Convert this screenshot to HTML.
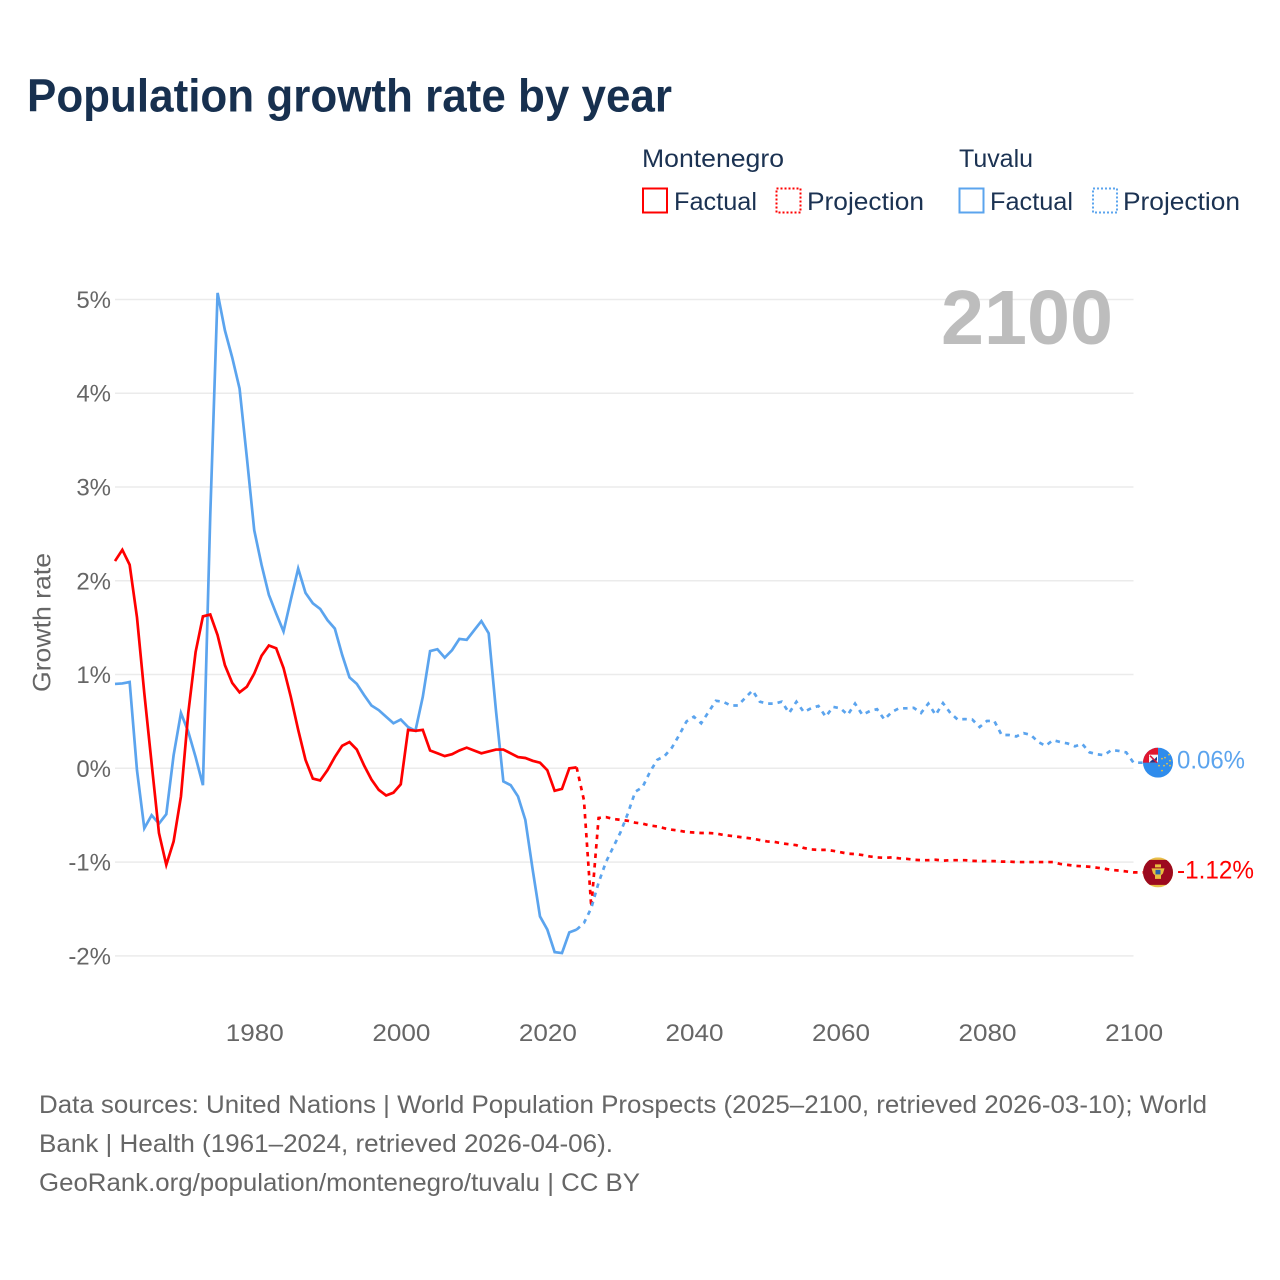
<!DOCTYPE html>
<html lang="en">
<head>
<meta charset="utf-8">
<title>Population growth rate by year</title>
<style>
html,body{margin:0;padding:0;background:#fff;width:1280px;height:1280px;overflow:hidden}
svg{display:block}
text{font-family:"Liberation Sans",sans-serif}
</style>
</head>
<body>
<svg id="chart" width="1280" height="1280" viewBox="0 0 1280 1280" xmlns="http://www.w3.org/2000/svg">
<defs>
<clipPath id="clip-tuvalu"><circle cx="0" cy="0" r="15"/></clipPath>
<clipPath id="clip-montenegro"><circle cx="0" cy="0" r="15"/></clipPath>
</defs>
<rect x="0" y="0" width="1280" height="1280" fill="#fff"/>
<text x="27" y="111.500" font-size="46" font-weight="700" fill="#17304f" textLength="645" lengthAdjust="spacingAndGlyphs">Population growth rate by year</text>

<g font-size="25" fill="#1b3252">
<text x="642" y="167" textLength="142" lengthAdjust="spacingAndGlyphs">Montenegro</text>
<text x="959" y="167" textLength="74" lengthAdjust="spacingAndGlyphs">Tuvalu</text>
<rect x="643" y="188.500" width="24" height="24" fill="none" stroke="#ff0000" stroke-width="2"/>
<text x="674" y="210" textLength="83" lengthAdjust="spacingAndGlyphs">Factual</text>
<rect x="776.500" y="188.500" width="24" height="24" fill="none" stroke="#ff0000" stroke-width="2" stroke-dasharray="2 2"/>
<text x="807" y="210" textLength="117" lengthAdjust="spacingAndGlyphs">Projection</text>
<rect x="959.500" y="188.500" width="24" height="24" fill="none" stroke="#5ba4ee" stroke-width="2"/>
<text x="990" y="210" textLength="83" lengthAdjust="spacingAndGlyphs">Factual</text>
<rect x="1093" y="188.500" width="24" height="24" fill="none" stroke="#5ba4ee" stroke-width="2" stroke-dasharray="2 2"/>
<text x="1123" y="210" textLength="117" lengthAdjust="spacingAndGlyphs">Projection</text>
</g>

<g id="grid"></g>
<g id="y-ticks"></g>
<g id="x-ticks"></g>
<text transform="translate(50.500,622.500) rotate(-90)" text-anchor="middle" font-size="25" fill="#666" textLength="139" lengthAdjust="spacingAndGlyphs">Growth rate</text>
<text x="1113" y="344" text-anchor="end" font-size="77" font-weight="700" fill="#bdbdbd" textLength="172" lengthAdjust="spacingAndGlyphs">2100</text>
<g id="series"></g>

<g id="flag-tuvalu">
<g clip-path="url(#clip-tuvalu)">
<rect x="-15" y="-15" width="30" height="30" fill="#2f8cec"/>
<rect x="-15" y="-15" width="15" height="15" fill="#e0162f"/>
<rect x="-9" y="-8" width="9" height="8" fill="#f6f6f6"/>
<path d="M-9 0 L-4.500 -4 L0 0 Z" fill="#1f3a8a"/>
<path d="M-1 -6 L-1 -2 L-5 -2 Z" fill="#1f3a8a"/>
<path d="M-8 -7 L-1 0" stroke="#d9143a" stroke-width="1.500"/>
<g fill="#e6c24a">
<circle cx="4" cy="-4" r="0.900"/><circle cx="7" cy="-5" r="0.900"/><circle cx="11" cy="-8" r="0.900"/><circle cx="12" cy="-2" r="0.900"/><circle cx="9" cy="1" r="0.900"/><circle cx="6" cy="3" r="0.900"/><circle cx="4" cy="8" r="0.900"/><circle cx="1" cy="3" r="0.900"/><circle cx="12" cy="3" r="0.900"/>
</g>
</g>
</g>

<g id="flag-montenegro">
<g clip-path="url(#clip-montenegro)">
<rect x="-15" y="-15" width="30" height="30" fill="#e8c048"/>
<rect x="-15" y="-12.500" width="30" height="25" fill="#9c0a1f"/>
<path d="M-3 -8 L3 -8 L3 -5 L-3 -5 Z" fill="#e8bf3f"/>
<path d="M-6.500 -4 L6.500 -4 L5 1 L3 3 L3 6.500 L-3 6.500 L-3 3 L-5 1 Z" fill="#e8bf3f"/>
<rect x="-2.500" y="-2.500" width="5" height="4.500" fill="#2b63a8"/>
</g>
</g>

<text id="label-tuvalu" x="1177" font-size="25" fill="#5ba4ee" textLength="68" lengthAdjust="spacingAndGlyphs"></text>
<text id="label-montenegro" x="1177" font-size="25" fill="#ff0000" textLength="77" lengthAdjust="spacingAndGlyphs"></text>

<g font-size="25" fill="#666">
<text x="39" y="1113" textLength="1168" lengthAdjust="spacingAndGlyphs">Data sources: United Nations | World Population Prospects (2025–2100, retrieved 2026-03-10); World</text>
<text x="39" y="1152" textLength="574" lengthAdjust="spacingAndGlyphs">Bank | Health (1961–2024, retrieved 2026-04-06).</text>
<text x="39" y="1191" textLength="601" lengthAdjust="spacingAndGlyphs">GeoRank.org/population/montenegro/tuvalu | CC BY</text>
</g>

<script>
const yTickValues = [5, 4, 3, 2, 1, 0, -1, -2];
const yTickLabels = ["5%", "4%", "3%", "2%", "1%", "0%", "-1%", "-2%"];
const xTickYears = [1980, 2000, 2020, 2040, 2060, 2080, 2100];
const factualStartYear = 1961;
const projectionStartYear = 2024;
const montenegroFactual = [2.21,2.33,2.17,1.61,0.80,0.05,-0.69,-1.03,-0.78,-0.30,0.59,1.24,1.62,1.64,1.42,1.10,0.91,0.81,0.87,1.01,1.20,1.31,1.28,1.07,0.76,0.41,0.09,-0.11,-0.13,-0.02,0.12,0.24,0.28,0.20,0.03,-0.12,-0.23,-0.29,-0.26,-0.17,0.41,0.40,0.41,0.19,0.16,0.13,0.15,0.19,0.22,0.19,0.16,0.18,0.20,0.20,0.16,0.12,0.11,0.08,0.06,-0.02,-0.24,-0.22,0.00,0.01];
const tuvaluFactual = [0.90,0.905,0.92,-0.02,-0.64,-0.50,-0.59,-0.49,0.14,0.59,0.39,0.12,-0.18,2.70,5.07,4.67,4.38,4.05,3.31,2.54,2.17,1.85,1.65,1.46,1.80,2.13,1.87,1.76,1.70,1.58,1.49,1.21,0.97,0.90,0.78,0.67,0.62,0.55,0.48,0.52,0.44,0.40,0.76,1.25,1.27,1.18,1.26,1.38,1.37,1.47,1.57,1.44,0.61,-0.14,-0.18,-0.30,-0.55,-1.08,-1.58,-1.72,-1.96,-1.97,-1.75,-1.72];
const montenegroProjection = [0.01,-0.34,-1.48,-0.53,-0.52,-0.54,-0.55,-0.56,-0.58,-0.59,-0.61,-0.62,-0.64,-0.655,-0.665,-0.68,-0.685,-0.69,-0.69,-0.695,-0.71,-0.72,-0.73,-0.74,-0.75,-0.765,-0.78,-0.785,-0.80,-0.81,-0.82,-0.85,-0.865,-0.87,-0.87,-0.88,-0.895,-0.91,-0.915,-0.925,-0.94,-0.95,-0.955,-0.95,-0.96,-0.965,-0.975,-0.98,-0.98,-0.975,-0.985,-0.98,-0.98,-0.98,-0.987,-0.99,-0.99,-0.99,-0.995,-0.995,-1.00,-1.00,-1.00,-1.00,-1.00,-1.00,-1.02,-1.03,-1.04,-1.045,-1.05,-1.06,-1.07,-1.085,-1.09,-1.10,-1.11];
const tuvaluProjection = [-1.72,-1.65,-1.49,-1.22,-1.00,-0.84,-0.68,-0.48,-0.25,-0.20,-0.04,0.09,0.13,0.22,0.355,0.50,0.55,0.48,0.60,0.72,0.71,0.67,0.67,0.75,0.83,0.71,0.69,0.69,0.71,0.59,0.71,0.60,0.64,0.665,0.55,0.655,0.64,0.57,0.69,0.57,0.61,0.63,0.52,0.60,0.64,0.64,0.645,0.59,0.69,0.57,0.695,0.59,0.52,0.525,0.52,0.44,0.505,0.505,0.355,0.355,0.34,0.375,0.355,0.28,0.24,0.30,0.28,0.265,0.235,0.26,0.17,0.15,0.14,0.195,0.185,0.17,0.06];
const endLabelTuvalu = "0.06%";
const endLabelMontenegro = "-1.12%";

const SVG_NS = "http://www.w3.org/2000/svg";
const plotLeft = 115;
const plotRight = 1133.5;
const markerX = 1158;

function xScale(year) {
  return plotLeft + (year - 1961) * (plotRight - plotLeft) / (2100 - 1961);
}
function yScale(value) {
  return 768.3 - value * 93.77;
}
function pathFrom(values, startYear) {
  return values.map(function (v, i) {
    return (i ? "L" : "M") + xScale(startYear + i).toFixed(2) + " " + yScale(v).toFixed(2);
  }).join(" ");
}
function make(tag, parent) {
  const el = document.createElementNS(SVG_NS, tag);
  parent.appendChild(el);
  return el;
}

const gridLayer = document.getElementById("grid");
const yTickLayer = document.getElementById("y-ticks");
const xTickLayer = document.getElementById("x-ticks");
const seriesLayer = document.getElementById("series");

yTickValues.forEach(function (v, i) {
  const line = make("line", gridLayer);
  
  
  line.setAttribute("x1", plotLeft);
  line.setAttribute("x2", plotRight);
  line.setAttribute("y1", yScale(v));
  line.setAttribute("y2", yScale(v));
  line.setAttribute("stroke", "#ebebeb");
  line.setAttribute("stroke-width", "1.5");
  const label = make("text", yTickLayer);
  
  
  label.setAttribute("x", 111);
  label.setAttribute("y", yScale(v) + 8.5);
  label.setAttribute("text-anchor", "end");
  label.setAttribute("font-size", "24");
  label.setAttribute("fill", "#666");
  label.textContent = yTickLabels[i];
});

xTickYears.forEach(function (year) {
  const label = make("text", xTickLayer);
  
  
  label.setAttribute("x", xScale(year) + 0.6);
  label.setAttribute("y", 1041);
  label.setAttribute("text-anchor", "middle");
  label.setAttribute("font-size", "24");
  label.setAttribute("fill", "#666");
  label.setAttribute("textLength", "58");
  label.setAttribute("lengthAdjust", "spacingAndGlyphs");
  label.textContent = String(year);
});

const tuvaluFactualLine = make("path", seriesLayer);


tuvaluFactualLine.setAttribute("d", pathFrom(tuvaluFactual, factualStartYear));
tuvaluFactualLine.setAttribute("fill", "none");
tuvaluFactualLine.setAttribute("stroke", "#5ba4ee");
tuvaluFactualLine.setAttribute("stroke-width", "2.7");
tuvaluFactualLine.setAttribute("stroke-linejoin", "miter");

const montenegroFactualLine = make("path", seriesLayer);


montenegroFactualLine.setAttribute("d", pathFrom(montenegroFactual, factualStartYear));
montenegroFactualLine.setAttribute("fill", "none");
montenegroFactualLine.setAttribute("stroke", "#ff0000");
montenegroFactualLine.setAttribute("stroke-width", "2.7");

const tuvaluLast = tuvaluProjection[tuvaluProjection.length - 1];
const montenegroLast = montenegroProjection[montenegroProjection.length - 1];

const montenegroProjectionLine = make("path", seriesLayer);


montenegroProjectionLine.setAttribute("d", pathFrom(montenegroProjection, projectionStartYear) + " L" + markerX + " " + yScale(montenegroLast).toFixed(2));
montenegroProjectionLine.setAttribute("fill", "none");
montenegroProjectionLine.setAttribute("stroke", "#ff0000");
montenegroProjectionLine.setAttribute("stroke-width", "2.7");
montenegroProjectionLine.setAttribute("stroke-dasharray", "4.500 5");

const tuvaluProjectionLine = make("path", seriesLayer);


tuvaluProjectionLine.setAttribute("d", pathFrom(tuvaluProjection, projectionStartYear) + " L" + markerX + " " + yScale(tuvaluLast).toFixed(2));
tuvaluProjectionLine.setAttribute("fill", "none");
tuvaluProjectionLine.setAttribute("stroke", "#5ba4ee");
tuvaluProjectionLine.setAttribute("stroke-width", "2.7");
tuvaluProjectionLine.setAttribute("stroke-dasharray", "4.500 5");

document.getElementById("flag-tuvalu").setAttribute("transform", "translate(" + markerX + "," + yScale(tuvaluLast) + ")");
document.getElementById("flag-montenegro").setAttribute("transform", "translate(" + markerX + "," + yScale(montenegroLast) + ")");

const labelTuvalu = document.getElementById("label-tuvalu");
labelTuvalu.setAttribute("y", yScale(tuvaluLast) + 6);
labelTuvalu.textContent = endLabelTuvalu;
const labelMontenegro = document.getElementById("label-montenegro");
labelMontenegro.setAttribute("y", yScale(montenegroLast) + 6);
labelMontenegro.textContent = endLabelMontenegro;
</script>
</svg>
</body>
</html>
